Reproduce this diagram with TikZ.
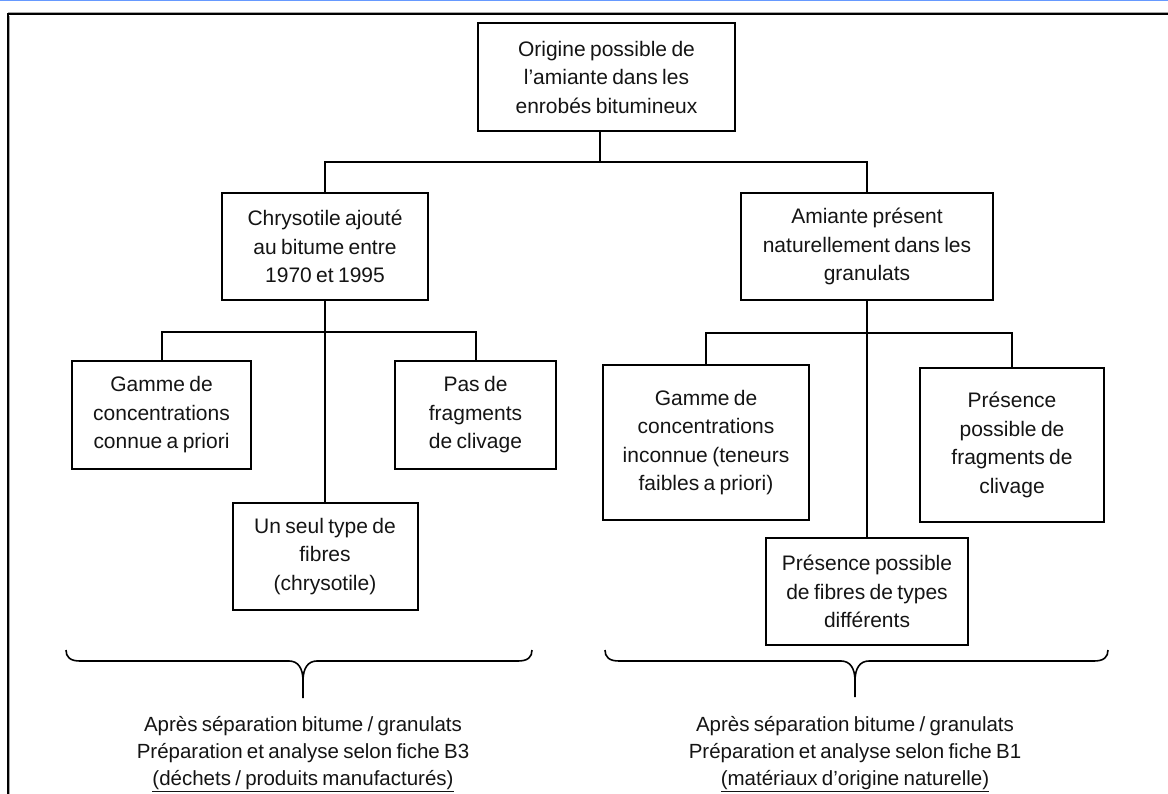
\documentclass[tikz,border=0pt]{standalone}
\usepackage{fontspec}
\setmainfont{Liberation Sans}[WordSpace=0.75]
\begin{document}
\begin{tikzpicture}[x=1pt, y=-1pt,
  ink/.style={line width=2pt, draw=black},
  box/.style={ink, align=center, inner sep=0pt, text=black!92,
    font=\fontsize{21}{28.5}\selectfont},
  conn/.style={line width=2pt, draw=black},
  brace/.style={line width=1.6pt, draw=black, line join=round},
  note/.style={align=center, text=black!92, font=\fontsize{20.5}{27}\selectfont}]
\useasboundingbox (0,0) rectangle (1168,794);
% page rule and outer frame
\draw[line width=2pt, draw={rgb,255:red,102;green,153;blue,255}] (0,0.5) -- (1168,0.5);
\draw[line width=1pt, draw=black!35] (8,794) -- (8,12.8) -- (1168,12.8);
\draw[line width=2.2pt] (8,794) -- (8,14.3) -- (1168,14.3);
\draw[line width=1pt, draw=black!35] (9.8,794) -- (9.8,15.8);

% boxes
\node[box, minimum width=257, minimum height=108] (root) at (606.5,77)
  {Origine possible de\\l’amiante dans les\\enrobés bitumineux};
\node[box, minimum width=206, minimum height=107] (chry) at (325,246.5)
  {Chrysotile ajouté\\au bitume entre\\1970 et 1995};
\node[box, minimum width=252, minimum height=107] (natu) at (867,246.5)
  {Amiante présent\\naturellement dans les\\granulats};
\node[box, minimum width=179, minimum height=108] (gam1) at (161.5,415)
  {Gamme de\\concentrations\\connue a priori};
\node[box, minimum width=161, minimum height=108] (pas) at (475.5,415)
  {Pas de\\fragments\\de clivage};
\node[box, minimum width=185, minimum height=107] (seul) at (325,556.5)
  {Un seul type de\\fibres\\(chrysotile)};
\node[box, minimum width=206, minimum height=155] (gam2) at (706,442.5)
  {Gamme de\\concentrations\\inconnue (teneurs\\faibles a priori)};
\node[box, minimum width=184, minimum height=154] (pres) at (1012,445)
  {Présence\\possible de\\fragments de\\clivage};
\node[box, minimum width=202, minimum height=107] (fib) at (867,591.5)
  {Présence possible\\de fibres de types\\différents};

% tree connectors
\coordinate (j0) at (600,162);
\coordinate (j1) at (0,332);
\coordinate (j2) at (0,333);
\draw[conn] (root.south -| j0) -- (j0);
\draw[conn] (chry.north) -- (chry.north |- j0) -- (natu.north |- j0) -- (natu.north);
\draw[conn] (chry.south) -- (seul.north);
\draw[conn] (gam1.north) -- (gam1.north |- j1) -- (pas.north |- j1) -- (pas.north);
\draw[conn] (natu.south) -- (fib.north);
\draw[conn] (gam2.north) -- (gam2.north |- j2) -- (pres.north |- j2) -- (pres.north);

% braces
\draw[brace] (66,650) .. controls (66,657) and (70,661) .. (80,661) -- (289,661)
  .. controls (298,661) and (303,668) .. (303,681) -- (303,698);
\draw[brace] (303,681) .. controls (303,668) and (308,661) .. (317,661) -- (518,661)
  .. controls (528,661) and (532,657) .. (532,650);
\draw[brace] (605,650) .. controls (605,657) and (609,661) .. (619,661) -- (841,661)
  .. controls (850,661) and (855,668) .. (855,681) -- (855,697);
\draw[brace] (855,681) .. controls (855,668) and (860,661) .. (869,661) -- (1094,661)
  .. controls (1104,661) and (1108,657) .. (1108,650);

% outcome notes
\node[note] (noteL) at (303,754)
  {Après séparation bitume / granulats\\Préparation et analyse selon fiche B3\\\underline{(déchets / produits manufacturés)}};
\node[note] (noteR) at (855,754)
  {Après séparation bitume / granulats\\Préparation et analyse selon fiche B1\\\underline{(matériaux d’origine naturelle)}};
\end{tikzpicture}
\end{document}
